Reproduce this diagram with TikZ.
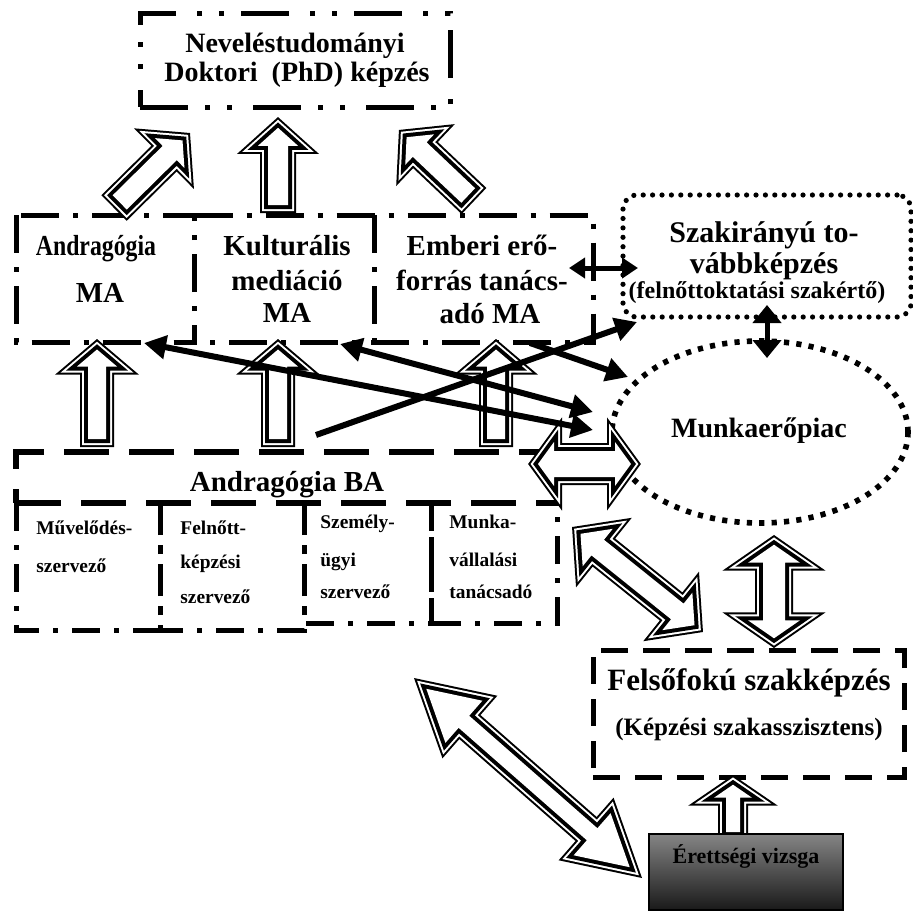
\documentclass[tikz,border=0pt]{standalone}
\usepackage{fontspec}
\setmainfont{Liberation Serif}
\usetikzlibrary{calc,arrows.meta,shapes.geometric}
\newcommand\onearrow[5]{%
  \coordinate (nk) at ($(#2)!#5!(#1)$);
  \path[barrow] ($(#1)!#3!90:(#2)$) -- ($(nk)!#3!90:(#2)$) -- ($(nk)!#4!90:(#2)$) -- (#2)
    -- ($(nk)!#4!-90:(#2)$) -- ($(nk)!#3!-90:(#2)$) -- ($(#1)!#3!-90:(#2)$) -- cycle;}
\newcommand\twoarrow[5]{%
  \coordinate (nk) at ($(#2)!#5!(#1)$);
  \coordinate (nj) at ($(#1)!#5!(#2)$);
  \path[barrow] (#1) -- ($(nj)!#4!90:(#2)$) -- ($(nj)!#3!90:(#2)$) -- ($(nk)!#3!90:(#2)$)
    -- ($(nk)!#4!90:(#2)$) -- (#2) -- ($(nk)!#4!-90:(#2)$) -- ($(nk)!#3!-90:(#2)$)
    -- ($(nj)!#3!-90:(#2)$) -- ($(nj)!#4!-90:(#2)$) -- cycle;}
\begin{document}
\begin{tikzpicture}[x=0.5pt,y=-0.5pt,
  boxdashdotdot/.style={draw, line width=2.5pt, dash pattern=on 24pt off 8.5pt on 2.5pt off 8.5pt on 2.5pt off 10.5pt},
  boxdashdot/.style={line width=2.5pt, dash pattern=on 19pt off 7pt on 2.5pt off 7pt},
  subdash/.style={line width=2.5pt, dash pattern=on 14pt off 7pt on 2.5pt off 7pt},
  boxdash/.style={draw, line width=2.8pt, dash pattern=on 22.5pt off 10pt},
  feldash/.style={draw, line width=2.5pt, dash pattern=on 13.5pt off 7.5pt},
  boxdot/.style={draw, line width=2.6pt, line cap=round, dash pattern=on 0pt off 4.7pt, rounded corners=7pt},
  boxsq/.style={draw, line width=2.8pt, dash pattern=on 2.6pt off 3.6pt},
  plain/.style={inner sep=0, outer sep=0},
  barrow/.style={line join=miter, miter limit=10,
     preaction={draw=black, line width=8pt},
     preaction={draw=white, line width=6pt},
     preaction={draw=black, line width=4pt},
     fill=white},
  thinline/.style={line width=3pt},
  bothtips/.style={{Triangle[length=11pt,width=11.5pt]}-{Triangle[length=11pt,width=11.5pt]}},
  onetip/.style={-{Triangle[length=11pt,width=11.5pt]}},
  fA/.style={font=\bfseries\fontsize{14}{16}\selectfont, inner sep=0, anchor=base},
  fB/.style={font=\bfseries\fontsize{14.5}{17}\selectfont, inner sep=0, anchor=base},
  fC/.style={font=\bfseries\fontsize{12}{14}\selectfont, inner sep=0, anchor=base},
  fD/.style={font=\bfseries\fontsize{9.7}{11}\selectfont, inner sep=0, anchor=base west},
]
\useasboundingbox (0,0) rectangle (913,910);
\fill[white] (0,0) rectangle (913,910);

% ---------- boxes ----------
\node[plain, boxdashdotdot, minimum width=155pt, minimum height=47pt] (phd) at (295,60) {};
\node[plain, minimum width=89pt, minimum height=63.5pt] (andma) at (105.5,278.5) {};
\node[plain, minimum width=89.5pt, minimum height=63.5pt] (kult) at (284.5,278.5) {};
\node[plain, minimum width=109.5pt, minimum height=63.5pt] (ember) at (483.5,278.5) {};
\draw[boxdashdot] (andma.north west) rectangle (andma.south east);
\draw[boxdashdot] (andma.north east) -- (ember.north east) -- (ember.south east) -- (andma.south east);
\draw[boxdashdot] (kult.north east) -- (kult.south east);
\node[plain, boxdot, minimum width=144pt, minimum height=61pt] (szak) at (767,256) {};
\node[plain, boxsq, ellipse, minimum width=148pt, minimum height=91pt] (piac) at (760,432) {};
\node[plain, boxdash, minimum width=270.5pt, minimum height=25.5pt] (ba) at (286.5,477.5) {};
\node[plain, minimum width=72pt, minimum height=63.5pt] (s1) at (88,566.5) {};
\node[plain, minimum width=72pt, minimum height=63.5pt] (s2) at (232,566.5) {};
\node[plain, minimum width=63.5pt, minimum height=60pt] (s3) at (367.5,563) {};
\node[plain, minimum width=63pt, minimum height=60pt] (s4) at (494,563) {};
\foreach \s in {s1,s2,s3,s4}{
  \draw[subdash] (\s.north west) -- (\s.south west) -- (\s.south east) -- (\s.north east);
}
\node[plain, feldash, minimum width=155.5pt, minimum height=63.5pt] (fel) at (748.5,713.5) {};

% ---------- texts ----------
\node[fA] (t1) at (295,52) {Neveléstudományi};
\node[fA] (t2) at (297,81) {Doktori\ \ (PhD) képzés};
\node[fB] (t3) at (96,255) {\scalebox{0.82}[1]{Andragógia}};
\node[fB] (t4) at (100,302) {MA};
\node[fB] (t5) at (287,255) {Kulturális};
\node[fB] (t6) at (287,290) {mediáció};
\node[fB] (t7) at (287,322) {MA};
\node[fB] (t8) at (482,255) {Emberi erő-};
\node[fB] (t9) at (482,290) {forrás tanács-};
\node[fB] (t10) at (490,323) {adó MA};
\node[fB, font=\bfseries\fontsize{15}{17}\selectfont] (t11) at (764,242) {Szakirányú to-};
\node[fB, font=\bfseries\fontsize{15}{17}\selectfont] (t12) at (764,273) {vábbképzés};
\node[fC] (t13) at (757,298) {(felnőttoktatási szakértő)};
\node[fA] (t14) at (759,437) {Munkaerőpiac};
\node[fB] (t15) at (287,491) {Andragógia BA};
\node[fD] (u1) at (36,534) {Művelődés-};
\node[fD] (u2) at (36,572) {szervező};
\node[fD] (u3) at (180,534) {Felnőtt-};
\node[fD] (u4) at (180,568) {képzési};
\node[fD] (u5) at (180,603) {szervező};
\node[fD] (u6) at (320,528) {Személy-};
\node[fD] (u7) at (320,566) {ügyi};
\node[fD] (u8) at (320,598) {szervező};
\node[fD] (u9) at (449,528) {Munka-};
\node[fD] (u10) at (449,566) {vállalási};
\node[fD] (u11) at (449,598) {tanácsadó};
\node[fB, font=\bfseries\fontsize{15.5}{17}\selectfont] (t16) at (749,690) {Felsőfokú szakképzés};
\node[fC, font=\bfseries\fontsize{12.5}{14}\selectfont] (t17) at (749,735) {(Képzési szakasszisztens)};

% ---------- block arrows ----------
\coordinate (pa1) at (119.7,202.4); \coordinate (pb1) at (182.5,140.4);
\coordinate (pa2) at (278,205); \coordinate (pb2) at (278,127.8);
\coordinate (pa3) at (468.2,195.5); \coordinate (pb3) at (406.6,137.2);
\onearrow{pa1}{pb1}{5pt}{10.5pt}{9pt}
\onearrow{pa2}{pb2}{5pt}{10pt}{9pt}
\onearrow{pa3}{pb3}{5pt}{10.5pt}{9pt}
\coordinate (ma1) at (97,439); \coordinate (mb1) at (97,349.5);
\coordinate (ma2) at (278,439); \coordinate (mb2) at (278,349.5);
\coordinate (ma3) at (496,439); \coordinate (mb3) at (496,349.5);
\onearrow{ma1}{mb1}{4.5pt}{10pt}{8.5pt}
\onearrow{ma2}{mb2}{4.5pt}{10pt}{8.5pt}
\onearrow{ma3}{mb3}{4.5pt}{10pt}{8.5pt}
\coordinate (ba1) at (538,464); \coordinate (ba2) at (631,464);
\twoarrow{ba1}{ba2}{6.5pt}{11pt}{8pt}
\coordinate (bf1) at (580.5,533.8); \coordinate (bf2) at (694.5,625.2);
\twoarrow{bf1}{bf2}{5pt}{12pt}{11pt}
\coordinate (pf1) at (774,544.7); \coordinate (pf2) at (774,638.3);
\twoarrow{pf1}{pf2}{5.5pt}{13pt}{9pt}
\coordinate (ef1) at (426.3,688.8); \coordinate (ef2) at (629.7,867.2);
\twoarrow{ef1}{ef2}{4pt}{14pt}{25pt}
\coordinate (ea1) at (733,832); \coordinate (ea2) at (733,784.7);
\onearrow{ea1}{ea2}{3.5pt}{9.5pt}{6.5pt}
\node[plain, draw=black, line width=0.6pt, top color=black!48, bottom color=black!90, minimum width=97pt, minimum height=38pt] (er) at (746,872) {};
\node[fC, font=\bfseries\fontsize{11}{13}\selectfont] (t18) at (746,863) {Érettségi vizsga};

% ---------- thin arrows ----------
\coordinate (l1a) at (144,343); \coordinate (l1b) at (593,430);
\coordinate (l2a) at (340,344); \coordinate (l2b) at (593,412);
\coordinate (l3a) at (530,343); \coordinate (l3b) at (628,377);
\coordinate (l4a) at (316,435); \coordinate (l4b) at (637,322);
\coordinate (l5a) at (569,268); \coordinate (l5b) at (638,268);
\coordinate (l6a) at (767,305); \coordinate (l6b) at (767,358);
\draw[thinline, bothtips] (l1a) -- (l1b);
\draw[thinline, bothtips] (l2a) -- (l2b);
\draw[thinline, onetip] (l3a) -- (l3b);
\draw[thinline, onetip] (l4a) -- (l4b);
\draw[line width=2.5pt, {Triangle[length=8pt,width=10pt]}-{Triangle[length=8pt,width=10pt]}] (l5a) -- (l5b);
\draw[line width=2.5pt, {Triangle[length=9pt,width=14pt]}-{Triangle[length=9pt,width=14pt]}] (l6a) -- (l6b);
\end{tikzpicture}
\end{document}
